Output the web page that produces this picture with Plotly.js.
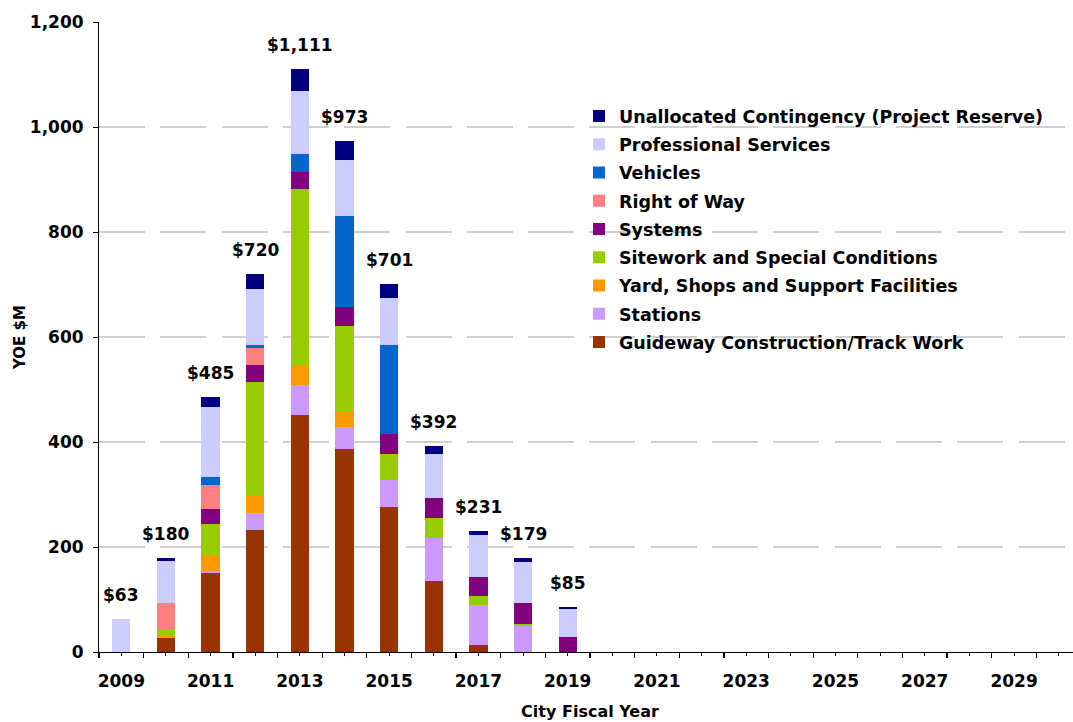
<!DOCTYPE html>
<html>
<head>
<meta charset="utf-8">
<script src="https://cdn.plot.ly/plotly-3.0.1.min.js"></script>
<style>
html,body{margin:0;padding:0;overflow:hidden;background:#fff;}
#chart{width:1090px;height:727px;}
</style>
</head>
<body>
<div id="chart"></div>
<script>
var years = [2009,2010,2011,2012,2013,2014,2015,2016,2017,2018,2019];
var guideway = [0,27,151,233,451,386,277,136,13,0,0];
var stations = [0,0,3,32,58,42,50,82,76,49,0];
var yard     = [0,4,29,34,35,31,0,0,0,0,0];
var sitework = [0,12,61,216,337,162,51,38,17,4,0];
var systems  = [0,0,29,32,34,37,37,38,37,40,28];
var rightOfWay = [0,50,46,32,0,0,0,0,0,0,0];
var vehicles = [0,0,15,6,33,172,169,0,0,0,0];
var profServices = [63,80,132,107,120,107,91,84,80,78,54];
var unallocated = [0,7,19,28,43,36,26,14,8,8,3];

var axisYears = [2009,2010,2011,2012,2013,2014,2015,2016,2017,2018,2019,2020,2021,2022,2023,2024,2025,2026,2027,2028,2029,2030];

var seriesNames = [
  "Guideway Construction/Track Work",
  "Stations",
  "Yard, Shops and Support Facilities",
  "Sitework and Special Conditions",
  "Systems",
  "Right of Way",
  "Vehicles",
  "Professional Services",
  "Unallocated Contingency (Project Reserve)"
];
var seriesValues = [guideway, stations, yard, sitework, systems, rightOfWay, vehicles, profServices, unallocated];
var seriesColors = ["#993300","#cc99ff","#ff9900","#99cc00","#800080","#ff8080","#0066cc","#ccccff","#000080"];

var FONT = "DejaVu Sans, Verdana, sans-serif";

var traces = seriesNames.map(function(n, i){
  return {
    type: "bar",
    name: n,
    x: years,
    y: seriesValues[i],
    width: 0.41,
    legendgroup: "g" + i,
    legendrank: 1000 - i * 10,
    marker: {color: seriesColors[i], line: {width: 0}},
    hoverinfo: "skip"
  };
});

var totals = years.map(function(_, j){
  var s = 0;
  seriesValues.forEach(function(arr){ s += arr[j]; });
  return s;
});

var annotations = years.map(function(yr, j){
  return {
    x: yr, y: totals[j], xref: "x", yref: "y",
    text: "$" + totals[j].toLocaleString("en-US"),
    showarrow: false, yanchor: "middle", yshift: 24,
    font: {family: FONT, size: 17, color: "#000", weight: "bold"}
  };
});

var boundaries = axisYears.map(function(y){ return y - 0.5; });
boundaries.push(axisYears[axisYears.length - 1] + 0.5);

var layout = {
  width: 1090, height: 727,
  margin: {l: 99, r: 9, t: 22, b: 75},
  paper_bgcolor: "#fff", plot_bgcolor: "#fff",
  barmode: "stack",
  bargap: 0,
  showlegend: true,
  legend: {
    x: 0.4888, y: 0.879, xanchor: "left", yanchor: "top",
    traceorder: "grouped", tracegroupgap: 2.5,
    font: {family: FONT, size: 17.5, color: "#000", weight: "bold"},
    bgcolor: "rgba(0,0,0,0)"
  },
  annotations: annotations,
  xaxis: {
    type: "linear",
    range: [axisYears[0] - 0.5, axisYears[axisYears.length - 1] + 0.5],
    tickmode: "array",
    tickvals: axisYears,
    ticktext: axisYears.map(function(y){ return (y % 2 === 1) ? String(y) : ""; }),
    ticks: "outside", ticklen: 3, tickwidth: 1, tickcolor: "#000",
    ticklabelstandoff: 11,
    minor: {tickmode: "array", tickvals: boundaries, ticks: "outside", ticklen: 5, tickwidth: 1.3, tickcolor: "#000", showgrid: false},
    showline: true, linecolor: "#000", linewidth: 1,
    showgrid: false, zeroline: false,
    tickfont: {family: FONT, size: 17, color: "#000", weight: "bold"},
    automargin: true,
    title: {text: "City Fiscal Year", font: {family: FONT, size: 16, color: "#000", weight: "bold"}, standoff: 15},
    fixedrange: true
  },
  yaxis: {
    range: [0, 1200],
    tickvals: [0,200,400,600,800,1000,1200],
    tickformat: ",d",
    ticks: "outside", ticklen: 5, tickwidth: 1, tickcolor: "#000",
    ticklabelstandoff: 6,
    showline: true, linecolor: "#000", linewidth: 1,
    showgrid: true, gridcolor: "#cfcfcf", gridwidth: 1.4, griddash: "46px,15.3px",
    zeroline: false,
    tickfont: {family: FONT, size: 17, color: "#000", weight: "bold"},
    automargin: true,
    title: {text: "YOE $M", font: {family: FONT, size: 15, color: "#000", weight: "bold"}, standoff: 0},
    fixedrange: true
  }
};

Plotly.newPlot("chart", traces, layout, {displayModeBar: false, staticPlot: true});
</script>
</body>
</html>
